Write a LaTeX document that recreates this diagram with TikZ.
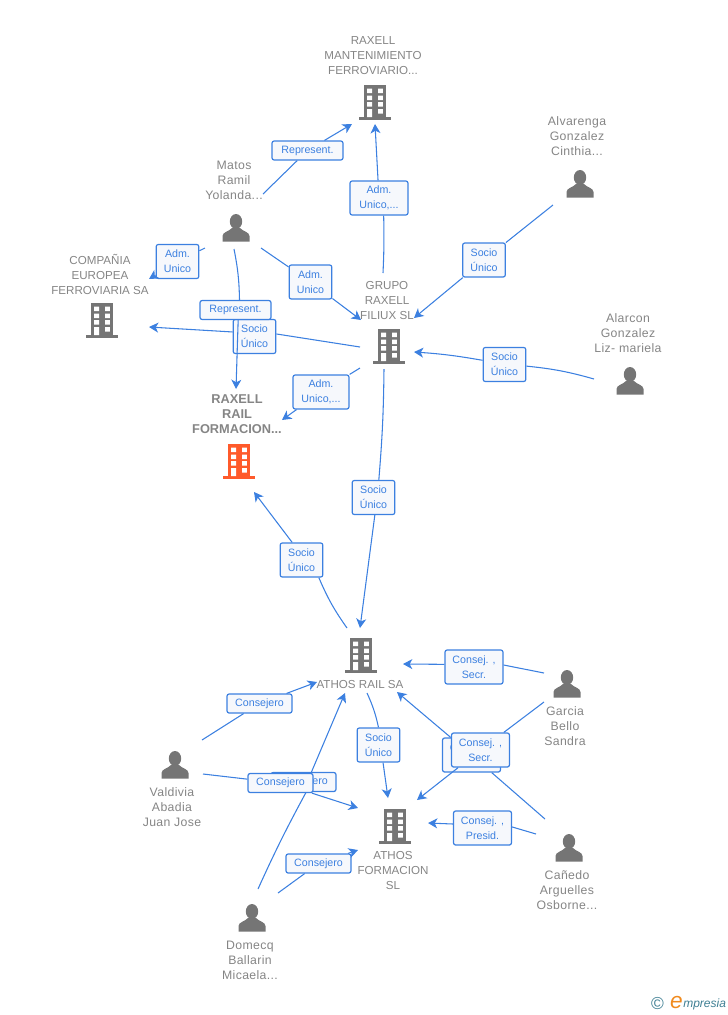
\documentclass[tikz,border=0pt]{standalone}
\usepackage{fontspec}
\setmainfont{Liberation Sans}
\usetikzlibrary{arrows.meta}
\definecolor{linkblue}{HTML}{3C80E0}
\definecolor{boxfill}{HTML}{F6F8FC}
\definecolor{labelgrey}{HTML}{858585}
\definecolor{icongrey}{HTML}{757575}
\definecolor{iconorange}{HTML}{FF5A2B}
\definecolor{logoteal}{HTML}{3F7F93}
\definecolor{logoorange}{HTML}{F08A1D}
\tikzset{
  nametext/.style={text=labelgrey, align=center, inner sep=0pt, font=\fontsize{8.7}{11.25}\selectfont},
  nameperson/.style={nametext, font=\fontsize{9.2}{11.25}\selectfont\addfontfeature{LetterSpace=3}},
  namebold/.style={nametext, font=\fontsize{9.6}{11.25}\selectfont\bfseries},
  tagbox/.style={draw=linkblue, fill=boxfill, line width=0.9pt, rounded corners=1.6pt, text=linkblue, align=center, inner sep=0pt, font=\fontsize{8}{11.25}\selectfont},
  tagsocio/.style={tagbox, minimum width=32pt, minimum height=25.5pt},
  tagconsej/.style={tagbox, minimum width=43.5pt, minimum height=25.5pt},
  tagline/.style={tagbox, minimum height=14.25pt},
  link/.style={draw=linkblue, line width=0.8pt},
  linkto/.style={link, -{Stealth[length=7pt, width=7.5pt, inset=2pt]}},
  pics/buildingicon/.style={code={
    \fill[#1] (-11,-17) rectangle (11,15);
    \fill[#1] (-16,15) rectangle (16,17.5);
    \fill[white] (-7.8,-13.5) rectangle (-3,-9) (3,-13.5) rectangle (7.8,-9);
    \fill[white] (-7.8,-6.5) rectangle (-3,-2) (3,-6.5) rectangle (7.8,-2);
    \fill[white] (-7.8,0) rectangle (-3,4.5) (3,0) rectangle (7.8,4.5);
    \fill[white] (-7.8,7) rectangle (-3,15) (3,7) rectangle (7.8,11.5);
  }},
  pics/personicon/.style={code={
    \fill[icongrey] (0,-6.5) ellipse (6.2 and 7.5);
    \fill[icongrey] (-13.5,13.5) -- (-13.5,8) .. controls (-13.5,4) and (-7,3.5) .. (-4,0) -- (4,0) .. controls (7,3.5) and (13.5,4) .. (13.5,8) -- (13.5,13.5) -- cycle;
  }},
}

\begin{document}
\begin{tikzpicture}[x=0.75pt, y=-0.75pt]
    \useasboundingbox (0,0) rectangle (728,1015);

    % empresas
    \pic (mant_icon) at (375,102) {buildingicon=icongrey};
    \pic (compania_icon) at (102,320) {buildingicon=icongrey};
    \pic (grupo_icon) at (389,346) {buildingicon=icongrey};
    \pic (rail_icon) at (239,461) {buildingicon=iconorange};
    \pic (athos_icon) at (361,655) {buildingicon=icongrey};
    \pic (formacion_icon) at (395,826) {buildingicon=icongrey};

    % personas
    \pic (matos_icon) at (236,228) {personicon};
    \pic (alvarenga_icon) at (580,184) {personicon};
    \pic (alarcon_icon) at (630,381) {personicon};
    \pic (garcia_icon) at (567,684) {personicon};
    \pic (valdivia_icon) at (175,765) {personicon};
    \pic (canedo_icon) at (569,848) {personicon};
    \pic (domecq_icon) at (252,918) {personicon};

    \node[nametext] (mant) at (373,56) {RAXELL\\MANTENIMIENTO\\FERROVIARIO...};
    \node[nameperson] (alvarenga) at (577,136) {Alvarenga\\Gonzalez\\Cinthia...};
    \node[nameperson] (matos) at (234,180) {Matos\\Ramil\\Yolanda...};
    \node[nametext] (compania) at (100,274) {COMPAÑIA\\EUROPEA\\FERROVIARIA SA};
    \node[nametext] (grupo) at (387,300) {GRUPO\\RAXELL\\FILIUX SL};
    \node[nameperson] (alarcon) at (628,333) {Alarcon\\Gonzalez\\Liz- mariela};
    \node[namebold] (rail) at (237,414) {RAXELL\\RAIL\\FORMACION...};
    \node[nametext] (athos) at (360,684) {ATHOS RAIL SA};
    \node[nameperson] (garcia) at (565,726) {Garcia\\Bello\\Sandra};
    \node[nameperson] (valdivia) at (172,807) {Valdivia\\Abadia\\Juan Jose};
    \node[nametext] (formacion) at (393,870) {ATHOS\\FORMACION\\SL};
    \node[nameperson] (canedo) at (567,890) {Cañedo\\Arguelles\\Osborne...};
    \node[nameperson] (domecq) at (250,960) {Domecq\\Ballarin\\Micaela...};

    % extremos libres
    \coordinate (matos_a) at (263,194);
    \coordinate (matos_b) at (205,248);
    \coordinate (matos_c) at (261,248);
    \coordinate (matos_d) at (234,249);
    \coordinate (mant_a) at (352,124);
    \coordinate (mant_b) at (375,124);
    \coordinate (compania_a) at (149,279);
    \coordinate (compania_b) at (149,327);
    \coordinate (grupo_a) at (361,320);
    \coordinate (grupo_b) at (414,318);
    \coordinate (grupo_c) at (414,352);
    \coordinate (grupo_d) at (383,273);
    \coordinate (grupo_e) at (360,347);
    \coordinate (grupo_f) at (360,368);
    \coordinate (grupo_g) at (384,369);
    \coordinate (alvarenga_a) at (553,205);
    \coordinate (alarcon_a) at (594,379);
    \coordinate (rail_a) at (236,389);
    \coordinate (rail_b) at (282,420);
    \coordinate (rail_c) at (254,492);
    \coordinate (athos_a) at (360,628);
    \coordinate (athos_b) at (347,628);
    \coordinate (athos_c) at (317,682);
    \coordinate (athos_d) at (345,693);
    \coordinate (athos_e) at (403,664);
    \coordinate (athos_f) at (397,692);
    \coordinate (athos_g) at (367,693);
    \coordinate (formacion_a) at (388,798);
    \coordinate (formacion_b) at (358,808);
    \coordinate (formacion_c) at (358,850);
    \coordinate (formacion_d) at (417,800);
    \coordinate (formacion_e) at (428,823);
    \coordinate (garcia_a) at (544,673);
    \coordinate (garcia_b) at (544,702);
    \coordinate (canedo_a) at (545,819);
    \coordinate (canedo_b) at (536,834);
    \coordinate (valdivia_a) at (202,740);
    \coordinate (valdivia_b) at (203,774);
    \coordinate (domecq_a) at (258,889);
    \coordinate (domecq_b) at (278,893);

    % cargos, parte superior
    \node[tagline, minimum width=53.25pt] (matos_mant) at (307.5,150.5) {Represent.};
    \draw[link] (matos_a) -- (matos_mant);
    \draw[linkto] (matos_mant) -- (mant_a);

    \node[tagconsej] (grupo_mant) at (379,198) {Adm.\\Unico,...};
    \draw[link] (grupo_d) to[bend right=2] ([xshift=3.5pt]grupo_mant.south);
    \draw[linkto] (grupo_mant) -- (mant_b);

    \node[tagsocio] (alvarenga_grupo) at (484,260) {Socio\\Único};
    \draw[link] (alvarenga_a) -- (alvarenga_grupo);
    \draw[linkto] (alvarenga_grupo) -- (grupo_b);

    \node[tagsocio] (alarcon_grupo) at (504.5,364.5) {Socio\\Único};
    \draw[link] (alarcon_a) to[bend right=5] (alarcon_grupo);
    \draw[linkto] (alarcon_grupo) to[bend right=3] (grupo_c);

    \node[tagsocio] (matos_compania) at (177.5,261.5) {Adm.\\Unico};
    \draw[link] (matos_b) -- (matos_compania);
    \draw[linkto] (matos_compania) -- (compania_a);

    \node[tagsocio] (matos_grupo) at (310.5,282) {Adm.\\Unico};
    \draw[link] (matos_c) -- (matos_grupo);
    \draw[linkto] (matos_grupo) -- (grupo_a);

    \node[tagsocio] (grupo_compania) at (254.5,336.5) {Socio\\Único};
    \draw[link] (grupo_e) -- ([yshift=1.9pt]grupo_compania.east);
    \draw[linkto] ([yshift=3.4pt]grupo_compania.west) -- (compania_b);

    \node[tagline, minimum width=53.25pt] (matos_rail) at (235.5,310) {Represent.};
    \draw[link] (matos_d) to[bend left=5] ([xshift=3pt]matos_rail.north);
    \draw[linkto] ([xshift=2pt]matos_rail.south) -- (rail_a);

    \node[tagconsej, minimum width=42pt] (grupo_rail) at (321,392) {Adm.\\Unico,...};
    \draw[link] (grupo_f) -- (grupo_rail);
    \draw[linkto] (grupo_rail) -- (rail_b);

    \node[tagsocio] (grupo_athos) at (373.5,497.5) {Socio\\Único};
    \draw[link] (grupo_g) to[bend left=2] ([xshift=4pt]grupo_athos.north);
    \draw[linkto] ([xshift=1pt]grupo_athos.south) -- (athos_a);

    \node[tagsocio] (athos_rail) at (301.5,560) {Socio\\Único};
    \draw[link] (athos_b) to[bend left=6] ([xshift=13pt]athos_rail.south);
    \draw[linkto] ([xshift=-7pt]athos_rail.north) -- (rail_c);

    % cargos, parte inferior
    \node[tagline, minimum width=48.75pt] (valdivia_athos) at (259.5,703.5) {Consejero};
    \draw[link] (valdivia_a) -- (valdivia_athos);
    \draw[linkto] (valdivia_athos) -- (athos_c);

    \node[tagline, minimum width=48.75pt] (domecq_athos) at (303.5,782) {Consejero};
    \draw[link] (domecq_a) to[bend left=2] ([xshift=2pt]domecq_athos.south);
    \draw[linkto] ([xshift=6pt]domecq_athos.north) -- (athos_d);

    \node[tagline, minimum width=48.75pt] (valdivia_formacion) at (280.5,783) {Consejero};
    \draw[link] (valdivia_b) -- (valdivia_formacion);
    \draw[linkto] (valdivia_formacion) -- (formacion_b);

    \node[tagline, minimum width=48.75pt] (domecq_formacion) at (318.5,863.5) {Consejero};
    \draw[link] (domecq_b) -- (domecq_formacion);
    \draw[linkto] (domecq_formacion) -- (formacion_c);

    \node[tagconsej] (garcia_athos) at (474,667) {Consej. ,\\Secr.};
    \draw[link] (garcia_a) -- ([yshift=1.5pt]garcia_athos.east);
    \draw[linkto] ([yshift=2pt]garcia_athos.west) -- (athos_e);

    \node[tagconsej] (canedo_athos) at (471.5,755) {Consej. ,\\Secr.};
    \draw[link] (canedo_a) -- (canedo_athos);
    \draw[linkto] (canedo_athos) -- (athos_f);

    \node[tagconsej] (garcia_formacion) at (480.5,750) {Consej. ,\\Secr.};
    \draw[link] (garcia_b) -- (garcia_formacion);
    \draw[linkto] (garcia_formacion) -- (formacion_d);

    \node[tagconsej] (canedo_formacion) at (482.5,828) {Consej. ,\\Presid.};
    \draw[link] (canedo_b) -- ([yshift=0.8pt]canedo_formacion.east);
    \draw[linkto] ([yshift=3pt]canedo_formacion.west) -- (formacion_e);

    \node[tagsocio] (athos_formacion) at (378.5,745) {Socio\\Único};
    \draw[link] (athos_g) to[bend left=6] (athos_formacion.north);
    \draw[linkto] ([xshift=3.4pt]athos_formacion.south) -- (formacion_a);

    % logo
    \node[text=logoteal, inner sep=0pt, font=\fontsize{13}{13}\selectfont] (logo_c) at (657.5,1004) {©};
    \node[text=logoorange, inner sep=0pt, font=\fontsize{17}{17}\selectfont\itshape] (logo_e) at (676.5,1002) {e};
    \node[text=logoteal, inner sep=0pt, anchor=west, font=\fontsize{9}{10}\selectfont\itshape] (logo_m) at (683,1004.5) {mpresia};
\end{tikzpicture}
\end{document}
